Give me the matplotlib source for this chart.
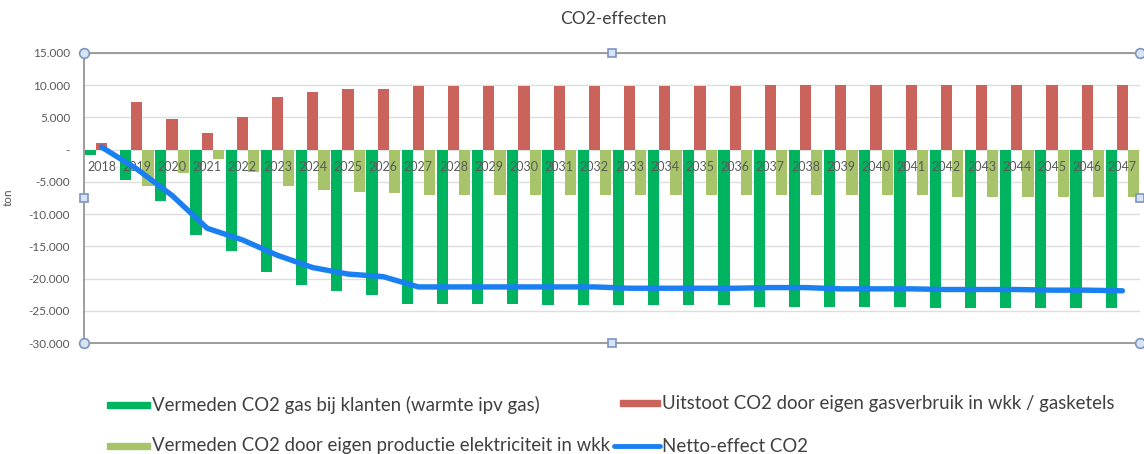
import numpy as np
import matplotlib
matplotlib.use("Agg")
import matplotlib.pyplot as plt
from matplotlib.patches import Rectangle
from matplotlib.lines import Line2D
from matplotlib.ticker import FuncFormatter

plt.rcParams['font.family'] = ['Lato', 'DejaVu Sans']

years = [str(y) for y in range(2018, 2048)]

vermeden_klanten = [-800, -4700, -8000, -13200, -15800, -19000, -21000, -22000, -22500,
                    -23900, -23900, -23900, -23900, -24100, -24100, -24100, -24100, -24100, -24100,
                    -24400, -24400, -24400, -24400, -24400,
                    -24600, -24600, -24600, -24600, -24600, -24600]
uitstoot_eigen = [1100, 7400, 4700, 2600, 5100, 8100, 9000, 9400, 9400,
                  9900, 9900, 9900, 9900, 9900, 9900, 9900, 9900, 9900, 9900,
                  10100, 10100, 10100, 10100, 10100, 10100, 10100, 10100, 10100, 10100, 10100]
vermeden_elek = [0, -5700, -3600, -1500, -3400, -5600, -6300, -6600, -6800,
                 -7100, -7100, -7100, -7100, -7100, -7100, -7100, -7100, -7100, -7100,
                 -7100, -7100, -7100, -7100, -7100,
                 -7400, -7400, -7400, -7400, -7400, -7400]
netto = [400, -3000, -7100, -12200, -14000, -16400, -18300, -19300, -19700,
         -21300, -21300, -21300, -21300, -21300, -21300, -21500, -21500, -21500, -21500,
         -21400, -21400, -21600, -21600, -21600, -21700, -21700, -21700, -21800, -21800, -21900]

labels = ["Vermeden CO2 gas bij klanten (warmte ipv gas)",
          "Uitstoot CO2 door eigen gasverbruik in wkk / gasketels",
          "Vermeden CO2 door eigen productie elektriciteit in wkk",
          "Netto-effect CO2"]

c_green = '#00B35E'
c_red = '#CB635D'
c_light = '#A8C46B'
c_blue = '#1A80F2'
c_text = '#595959'

W, H = 1144, 454
fig = plt.figure(figsize=(W / 100, H / 100), dpi=100)
ax = fig.add_axes([84 / W, 1 - 343 / H, (1140 - 84) / W, (343 - 53) / H])

x = np.arange(len(years))
w = 0.317
ax.bar(x - w, vermeden_klanten, width=w, color=c_green, zorder=1)
ax.bar(x, uitstoot_eigen, width=w, color=c_red, zorder=1)
ax.bar(x + w, vermeden_elek, width=w, color=c_light, zorder=1)
ax.plot(x, netto, color=c_blue, lw=3.9, solid_capstyle='round', solid_joinstyle='round', zorder=4)

ax.set_xlim(-0.5, len(years) - 0.5)
ax.set_ylim(-30000, 15000)
ax.set_yticks(np.arange(-30000, 15001, 5000))


def fmt(v, pos):
    if abs(v) < 1e-6:
        return '-'
    return f"{v:,.0f}".replace(',', '.')


ax.yaxis.set_major_formatter(FuncFormatter(fmt))
ax.set_xticks(x)
ax.set_xticklabels(years)
ax.spines['bottom'].set_position(('data', 0))
ax.spines['bottom'].set_visible(False)
ax.spines['right'].set_visible(False)
ax.spines['top'].set_color('#8c8c8c')
ax.spines['top'].set_linewidth(1.2)
ax.spines['left'].set_color('#8c8c8c')
ax.spines['left'].set_linewidth(1.2)
ax.axhline(-30000, color='#8c8c8c', lw=1.2, clip_on=False, zorder=5)
ax.tick_params(axis='x', length=0, pad=8, labelsize=9, labelcolor=c_text)
ax.tick_params(axis='y', length=0, pad=10, labelsize=8.5, labelcolor=c_text)
ax.yaxis.grid(True, color='#dedede', lw=1.0)
ax.set_axisbelow(True)
ax.xaxis.set_zorder(3)
ax.set_ylabel('ton', fontsize=8.5, color=c_text)
ax.yaxis.set_label_coords((14 - 84) / (1140 - 84), (343 - 197) / (343 - 53))

# selection handles
for (hx, hy, m) in [(0, 1, 'o'), (0.5, 1, 's'), (1, 1, 'o'), (0, 0.5, 's'), (1, 0.5, 's'),
                    (0, 0, 'o'), (0.5, 0, 's'), (1, 0, 'o')]:
    ax.plot([hx], [hy], marker=m, ms=7 if m == 'o' else 6.3, mfc='#d8e3f3', mec='#7b95c2',
            mew=1.2, transform=ax.transAxes, clip_on=False, zorder=6)

fig.text(613 / W, 1 - 19 / H, 'CO2-effecten', ha='center', va='center', fontsize=12.5, color='#404040')

# legend
leg_items = [
    (107, 150, 405, 'bar', c_green, labels[0], 152),
    (620, 660, 403, 'bar', c_red, labels[1], 662),
    (107, 150, 446, 'bar', c_light, labels[2], 152),
    (614, 660, 446, 'line', c_blue, labels[3], 662),
]
for x0, x1, yy, kind, col, txt, tx in leg_items:
    if kind == 'bar':
        fig.add_artist(Rectangle((x0 / W, 1 - (yy + 3) / H), (x1 - x0) / W, 6 / H,
                                 transform=fig.transFigure, color=col))
    else:
        fig.add_artist(Line2D([x0 / W, x1 / W], [1 - yy / H, 1 - yy / H], transform=fig.transFigure,
                              color=col, lw=3.5, solid_capstyle='round'))
    fig.text(tx / W, 1 - yy / H, txt, ha='left', va='center', fontsize=13.4, color='#404040')

fig.savefig('out.png', dpi=100)
